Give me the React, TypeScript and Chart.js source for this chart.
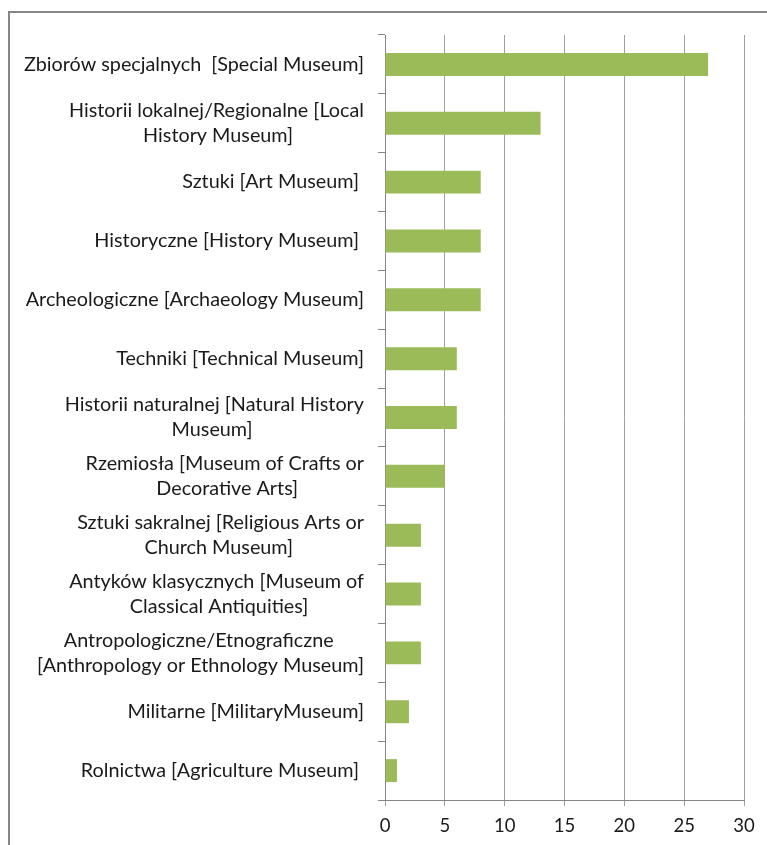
import React, { useEffect, useRef } from 'react';
import { Chart, registerables } from 'chart.js';
Chart.register(...registerables);

const categories: string[][] = [
  ['Zbiorów specjalnych  [Special Museum]'],
  ['Historii lokalnej/Regionalne [Local', 'History Museum]'],
  ['Sztuki [Art Museum] '],
  ['Historyczne [History Museum] '],
  ['Archeologiczne [Archaeology Museum]'],
  ['Techniki [Technical Museum]'],
  ['Historii naturalnej [Natural History', 'Museum]'],
  ['Rzemiosła [Museum of Crafts or', 'Decorative Arts]'],
  ['Sztuki sakralnej [Religious Arts or', 'Church Museum]'],
  ['Antyków klasycznych [Museum of', 'Classical Antiquities]'],
  ['Antropologiczne/Etnograficzne', '[Anthropology or Ethnology Museum]'],
  ['Militarne [MilitaryMuseum]'],
  ['Rolnictwa [Agriculture Museum] '],
];
const values: number[] = [27, 13, 8, 8, 8, 6, 6, 5, 3, 3, 3, 2, 1];
const xMin = 0;
const xMax = 30;
const xStep = 5;

const FONT_FAMILY = 'Lato';
const Y_FONT_SIZE = 19.8;
const X_FONT_SIZE = 18.5;

function centerLines(lines: string[]): string[] {
  if (lines.length < 2) return lines;
  const ctx = document.createElement('canvas').getContext('2d')!;
  ctx.font = `${Y_FONT_SIZE}px ${FONT_FAMILY}`;
  const widths = lines.map((l) => ctx.measureText(l).width);
  const max = Math.max(...widths);
  const sp = ctx.measureText(' ').width;
  return lines.map((l, i) => l + ' '.repeat(Math.round((max - widths[i]) / 2 / sp)));
}

export default function App() {
  const ref = useRef<HTMLCanvasElement | null>(null);
  useEffect(() => {
    document.body.style.overflow = 'hidden';
    const labels = categories.map(centerLines);
    const chart = new Chart(ref.current!, {
      type: 'bar',
      data: {
        labels,
        datasets: [
          {
            data: values,
            backgroundColor: '#9BBB59',
            borderWidth: 0,
            barPercentage: 0.39,
            categoryPercentage: 1,
          },
        ],
      },
      options: {
        indexAxis: 'y',
        animation: false,
        responsive: false,
        maintainAspectRatio: false,
        layout: { padding: { left: 0, top: 35, right: 23, bottom: 0 } },
        plugins: { legend: { display: false }, tooltip: { enabled: false } },
        scales: {
          x: {
            min: xMin,
            max: xMax,
            ticks: {
              stepSize: xStep,
              color: '#1a1a1a',
              padding: 9,
              font: { family: FONT_FAMILY, size: X_FONT_SIZE },
            },
            grid: { color: '#a0a0a0', tickColor: '#a0a0a0', tickLength: 6 },
            border: { color: '#868686' },
            afterFit: (s: any) => {
              s.height = 45;
            },
          },
          y: {
            ticks: {
              color: '#1a1a1a',
              padding: 14,
              font: { family: FONT_FAMILY, size: Y_FONT_SIZE, lineHeight: 1.27 },
              autoSkip: false,
            },
            grid: { drawOnChartArea: false, tickLength: 7, tickColor: '#868686', offset: true },
            border: { color: '#868686' },
            afterFit: (s: any) => {
              s.width = 385;
            },
          },
        },
      },
    });
    return () => chart.destroy();
  }, []);
  return (
    <>
      <div
        style={{
          position: 'fixed',
          left: 8,
          top: 11,
          width: 759,
          height: 834,
          borderTop: '2px solid #868686',
          borderLeft: '2px solid #868686',
          boxSizing: 'border-box',
        }}
      />
      <canvas
        ref={ref}
        width={767}
        height={845}
        style={{ position: 'fixed', left: 0, top: 0, width: 767, height: 845 }}
      />
    </>
  );
}
